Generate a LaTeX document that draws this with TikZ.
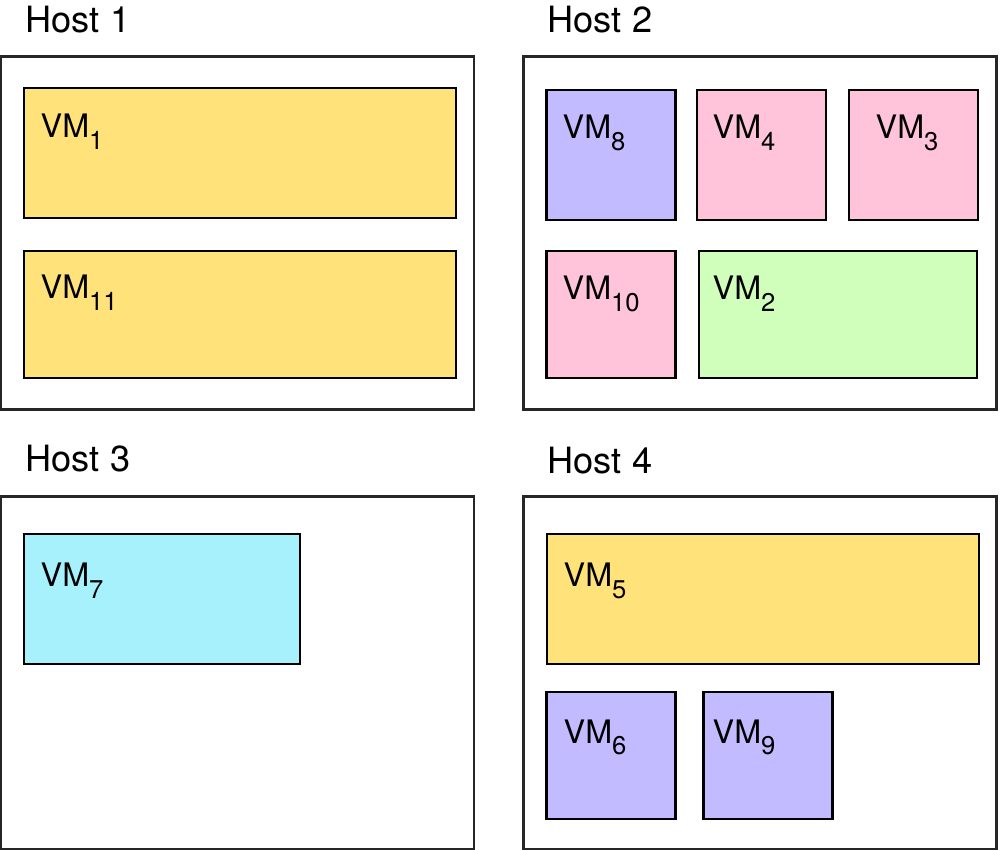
\documentclass[tikz,border=0pt]{standalone}
\usepackage{fontspec}
\setmainfont{TeX Gyre Heros}
\usepackage{tikz}
\usetikzlibrary{positioning}

\definecolor{vmyellow}{HTML}{FFE27A}
\definecolor{vmlilac}{HTML}{C3BBFF}
\definecolor{vmpink}{HTML}{FFC4DA}
\definecolor{vmgreen}{HTML}{CFFFBA}
\definecolor{vmcyan}{HTML}{A6F1FB}

\newcommand{\vmname}[1]{VM\raisebox{-3.3pt}{\fontsize{7.3}{8}\selectfont #1}}

\begin{document}
\begin{tikzpicture}[x=1cm, y=-1cm]
			\tikzstyle{Host}	= [rectangle, draw=black!85, line width=0.6pt, fill=white, minimum width=4.73cm, minimum height=3.53cm, inner sep=0pt]
			\tikzstyle{VM}		= [rectangle, draw=black, line width=0.6pt, inner sep=0pt]
			\tikzstyle{Wide}	= [minimum width=4.32cm]
			\tikzstyle{Square}	= [minimum width=1.29cm]
			\tikzstyle{Tall}	= [minimum height=1.30cm]
			\tikzstyle{Low}		= [minimum height=1.27cm]
			\tikzstyle{HostText}	= [anchor=base west, inner sep=0pt, font=\fontsize{10.3}{12}\selectfont]
			\tikzstyle{VMText}	= [anchor=base west, inner sep=0pt, font=\fontsize{9.2}{11}\selectfont]
			
			\useasboundingbox (0,0) rectangle (10,8.5);
			
			\node (h1) at (2.375, 2.33) [Host] {};
			\node (h2) at (7.60, 2.33) [Host] {};
			\node (h3) at (2.375, 6.73) [Host] {};
			\node (h4) at (7.60, 6.73) [Host] {};
			
			\node (h1t) at (0.25, 0.33) [HostText] {Host 1};
			\node (h2t) at (5.47, 0.33) [HostText] {Host 2};
			\node (h3t) at (0.25, 4.72) [HostText] {Host 3};
			\node (h4t) at (5.47, 4.74) [HostText] {Host 4};
			
			\node (vm1) at (2.40, 1.53) [VM][Wide][Tall][fill=vmyellow] {};
			\node (vm11) at (2.40, 3.145) [VM][Wide][Low][fill=vmyellow] {};
			\node (vm8) at (6.11, 1.55) [VM][Square][Tall][fill=vmlilac] {};
			\node (vm4) at (7.615, 1.55) [VM][Square][Tall][fill=vmpink] {};
			\node (vm3) at (9.135, 1.55) [VM][Square][Tall][fill=vmpink] {};
			\node (vm10) at (6.11, 3.145) [VM][Square][Low][fill=vmpink] {};
			\node (vm2) at (8.38, 3.145) [VM][Low][minimum width=2.78cm][fill=vmgreen] {};
			\node (vm7) at (1.62, 5.99) [VM][Tall][minimum width=2.76cm][fill=vmcyan] {};
			\node (vm5) at (7.63, 5.99) [VM][Wide][Tall][fill=vmyellow] {};
			\node (vm6) at (6.11, 7.555) [VM][Square][Low][fill=vmlilac] {};
			\node (vm9) at (7.68, 7.555) [VM][Square][Low][fill=vmlilac] {};
			
			\node (vm1t) at (0.40, 1.38) [VMText] {\vmname{1}};
			\node (vm11t) at (0.40, 2.99) [VMText] {\vmname{11}};
			\node (vm8t) at (5.62, 1.39) [VMText] {\vmname{8}};
			\node (vm4t) at (7.12, 1.39) [VMText] {\vmname{4}};
			\node (vm3t) at (8.75, 1.39) [VMText] {\vmname{3}};
			\node (vm10t) at (5.62, 3.00) [VMText] {\vmname{10}};
			\node (vm2t) at (7.12, 3.00) [VMText] {\vmname{2}};
			\node (vm7t) at (0.40, 5.87) [VMText] {\vmname{7}};
			\node (vm5t) at (5.63, 5.87) [VMText] {\vmname{5}};
			\node (vm6t) at (5.63, 7.43) [VMText] {\vmname{6}};
			\node (vm9t) at (7.12, 7.43) [VMText] {\vmname{9}};
		\end{tikzpicture}
\end{document}
